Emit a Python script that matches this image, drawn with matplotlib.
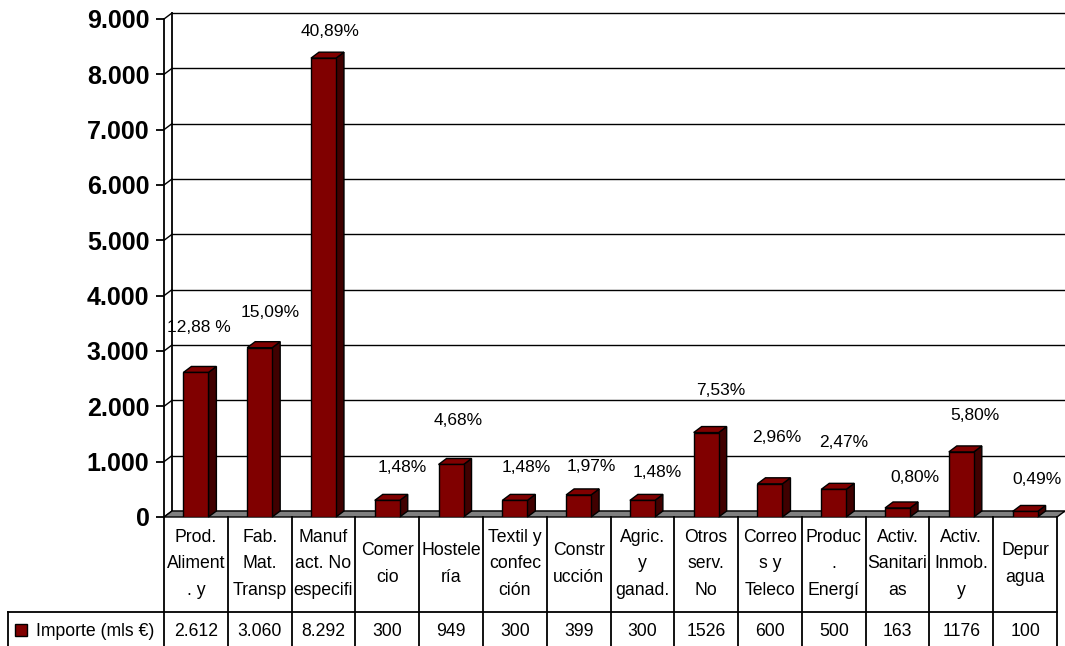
import matplotlib
matplotlib.use("Agg")
import matplotlib.pyplot as plt
from matplotlib import transforms
from matplotlib.patches import Polygon, Rectangle
from matplotlib.lines import Line2D

# ---------------- data ----------------
categories = ["Prod.\nAliment\n. y", "Fab.\nMat.\nTransp", "Manuf\nact. No\nespecifi",
              "Comer\ncio", "Hostele\nría", "Textil y\nconfec\nción", "Constr\nucción",
              "Agric.\ny\nganad.", "Otros\nserv.\nNo", "Correo\ns y\nTeleco",
              "Produc\n.\nEnergí", "Activ.\nSanitari\nas", "Activ.\nInmob.\ny", "Depur\nagua"]
values = [2612, 3060, 8292, 300, 949, 300, 399, 300, 1526, 600, 500, 163, 1176, 100]
value_labels = ["2.612", "3.060", "8.292", "300", "949", "300", "399", "300",
                "1526", "600", "500", "163", "1176", "100"]
pct_labels = ["12,88 %", "15,09%", "40,89%", "1,48%", "4,68%", "1,48%", "1,97%",
              "1,48%", "7,53%", "2,96%", "2,47%", "0,80%", "5,80%", "0,49%"]
series_name = "Importe (mls €)"
yticks = [0, 1000, 2000, 3000, 4000, 5000, 6000, 7000, 8000, 9000]
ytick_labels = ["0", "1.000", "2.000", "3.000", "4.000", "5.000", "6.000",
                "7.000", "8.000", "9.000"]

# label placement (pixels) -- style, not data
pct_dx_px = [3, 11, 7, 15, 7, 11, 13, 15, 15, 7, 10, 17, 14, 12]
pct_dy_px = [45, 35, 27, 33, 44, 33, 28, 28, 42, 46, 47, 30, 36, 32]

# ---------------- style ----------------
W, H, DPI = 1065, 646, 100
FONT = ["Liberation Sans", "DejaVu Sans"]
plt.rcParams["font.family"] = FONT
FRONT = "#800000"
SIDE = "#400000"
TOP = "#800000"
FLOOR = "#808080"

fig = plt.figure(figsize=(W / DPI, H / DPI), dpi=DPI)
x_left, x_right = 164, 1057
y_zero, y_top = 517, 19
ax = fig.add_axes([x_left / W, 1 - y_zero / H, (x_right - x_left) / W, (y_zero - y_top) / H])
n = len(categories)
ax.set_xlim(-0.5, n - 0.5)
ax.set_ylim(0, 9000)
ax.patch.set_visible(False)
for s in ["top", "right", "bottom"]:
    ax.spines[s].set_visible(False)
ax.spines["left"].set_linewidth(1.3)
ax.set_xticks([])
ax.set_yticks(yticks)
ax.set_yticklabels(ytick_labels, fontsize=18, fontweight="bold")
ax.tick_params(axis="y", length=5.5, width=1.3, pad=5)

# depth offset in data units
px_per_cat = (x_right - x_left) / n
px_per_val = (y_zero - y_top) / 9000
DXpx, DYpx = 8, 6
dx = DXpx / px_per_cat
dy = DYpx / px_per_val
x0, x1 = -0.5, n - 0.5

# back wall gridlines + diagonals
for v in yticks:
    ax.add_line(Line2D([x0 + dx, x1 + dx], [v + dy, v + dy], color="black", lw=1.0,
                       clip_on=False, zorder=1))
    ax.add_line(Line2D([x0, x0 + dx], [v, v + dy], color="black", lw=1.0,
                       clip_on=False, zorder=1))
ax.add_line(Line2D([x0 + dx, x0 + dx], [dy, 9000 + dy], color="black", lw=1.3,
                   clip_on=False, zorder=1))
# floor
ax.add_patch(Polygon([(x0, 0), (x1, 0), (x1 + dx, dy), (x0 + dx, dy)], closed=True,
                     facecolor=FLOOR, edgecolor="black", lw=1.0, clip_on=False, zorder=2))

# bars
bw = 25 / px_per_cat
xs = list(range(n))
ax.bar(xs, values, width=bw, color=FRONT, edgecolor="black", linewidth=1.0, zorder=4)
for i, v in zip(xs, values):
    l, r = i - bw / 2, i + bw / 2
    ax.add_patch(Polygon([(r, 0), (r + dx, dy), (r + dx, v + dy), (r, v)], closed=True,
                         facecolor=SIDE, edgecolor="black", lw=1.0, clip_on=False, zorder=3))
    ax.add_patch(Polygon([(l, v), (r, v), (r + dx, v + dy), (l + dx, v + dy)], closed=True,
                         facecolor=TOP, edgecolor="black", lw=1.0, clip_on=False, zorder=3))

# percentage labels
for i, v, t, ox, oy in zip(xs, values, pct_labels, pct_dx_px, pct_dy_px):
    ax.annotate(t, (i, v), xytext=(ox * 0.72, oy * 0.72), textcoords="offset points",
                ha="center", va="center", fontsize=12.5, zorder=6)

# ---------------- data table ----------------
tr = transforms.blended_transform_factory(ax.transData, fig.transFigure)
def fy(px):
    return 1 - px / H
row1_top, row1_bot, row2_bot = y_zero, 612, H
for k in range(n + 1):
    xb = x0 + k
    fig.add_artist(Line2D([xb, xb], [fy(row1_top), fy(row2_bot)], color="black", lw=1.3,
                          transform=tr))
fig.add_artist(Line2D([8 / W, x_right / W], [fy(row1_bot), fy(row1_bot)], color="black",
                      lw=1.3, transform=fig.transFigure))
fig.add_artist(Line2D([8 / W, 8 / W], [fy(row1_bot), fy(row2_bot)], color="black",
                      lw=1.3, transform=fig.transFigure))
for i, (c, vl) in enumerate(zip(categories, value_labels)):
    fig.text(i, fy(564), c, transform=tr, ha="center",
             va="center", fontsize=12.7, linespacing=1.7)
    fig.text(i, fy(631), vl, transform=tr, ha="center", va="center", fontsize=12.7)
# legend key
fig.add_artist(Rectangle((15 / W, fy(636)), 12 / W, 12 / H, facecolor=FRONT,
                         edgecolor="black", lw=1.0, transform=fig.transFigure))
fig.text(36 / W, fy(631), series_name, ha="left", va="center", fontsize=12.7)

fig.savefig("out.png", dpi=DPI)
